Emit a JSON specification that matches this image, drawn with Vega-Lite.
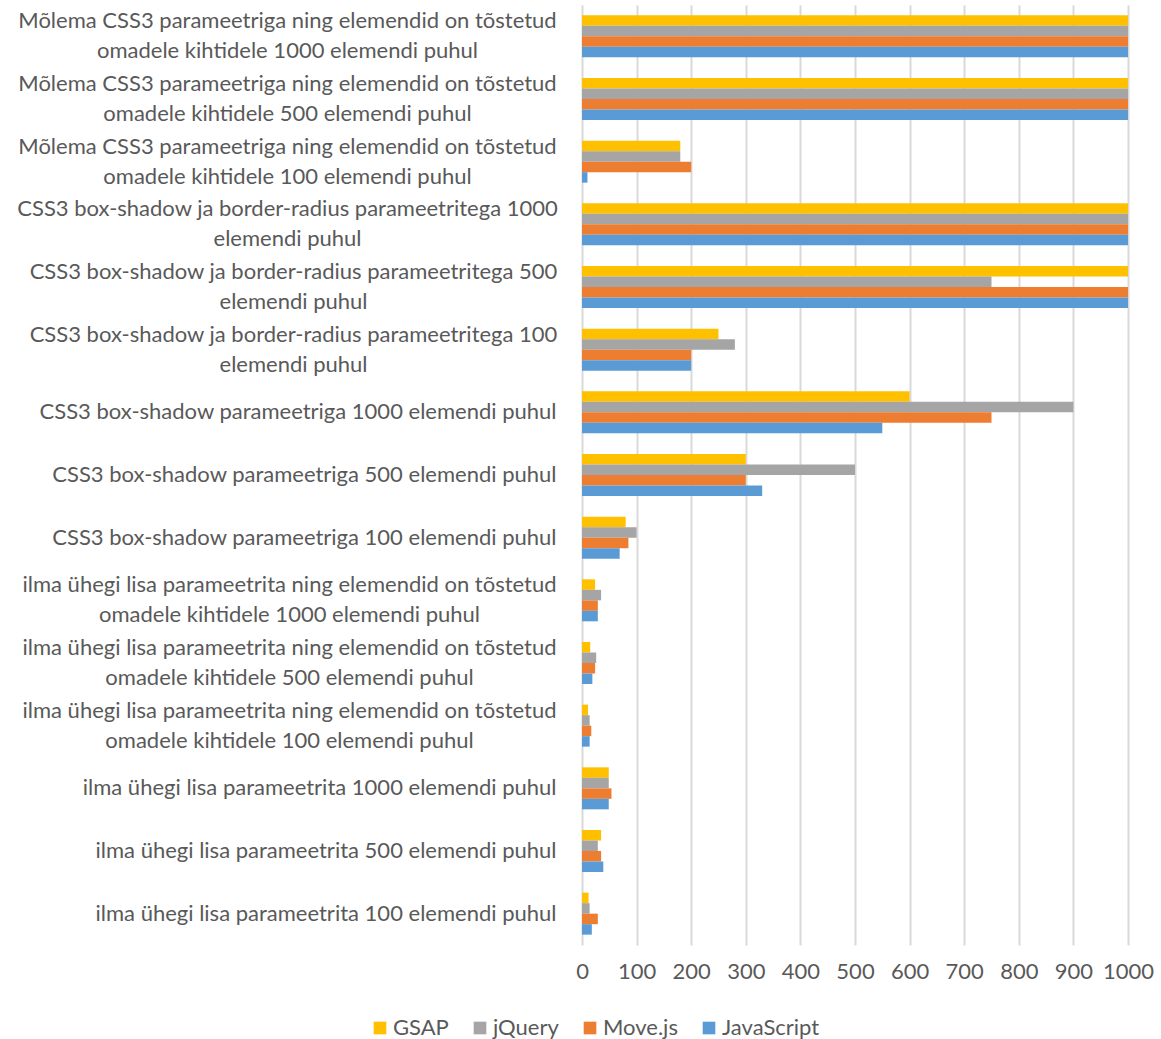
{
  "$schema": "https://vega.github.io/schema/vega-lite/v6.json",
  "width": 546,
  "height": 940,
  "padding": {"left": 16, "top": 5, "right": 30, "bottom": 5},
  "background": "white",
  "config": {
    "font": "Lato",
    "view": {"stroke": null},
    "axis": {"labelColor": "#595959", "labelFontSize": 22, "labelFont": "Lato"},
    "legend": {"labelColor": "#595959", "labelFontSize": 22, "labelFont": "Lato"}
  },
  "data": {
    "values": [
      {"test": "Mõlema CSS3 parameetriga ning elemendid on tõstetud|omadele kihtidele 1000 elemendi puhul", "series": "GSAP", "ms": 1000},
      {"test": "Mõlema CSS3 parameetriga ning elemendid on tõstetud|omadele kihtidele 1000 elemendi puhul", "series": "jQuery", "ms": 1000},
      {"test": "Mõlema CSS3 parameetriga ning elemendid on tõstetud|omadele kihtidele 1000 elemendi puhul", "series": "Move.js", "ms": 1000},
      {"test": "Mõlema CSS3 parameetriga ning elemendid on tõstetud|omadele kihtidele 1000 elemendi puhul", "series": "JavaScript", "ms": 1000},

      {"test": "Mõlema CSS3 parameetriga ning elemendid on tõstetud|omadele kihtidele 500 elemendi puhul", "series": "GSAP", "ms": 1000},
      {"test": "Mõlema CSS3 parameetriga ning elemendid on tõstetud|omadele kihtidele 500 elemendi puhul", "series": "jQuery", "ms": 1000},
      {"test": "Mõlema CSS3 parameetriga ning elemendid on tõstetud|omadele kihtidele 500 elemendi puhul", "series": "Move.js", "ms": 1000},
      {"test": "Mõlema CSS3 parameetriga ning elemendid on tõstetud|omadele kihtidele 500 elemendi puhul", "series": "JavaScript", "ms": 1000},

      {"test": "Mõlema CSS3 parameetriga ning elemendid on tõstetud|omadele kihtidele 100 elemendi puhul", "series": "GSAP", "ms": 180},
      {"test": "Mõlema CSS3 parameetriga ning elemendid on tõstetud|omadele kihtidele 100 elemendi puhul", "series": "jQuery", "ms": 180},
      {"test": "Mõlema CSS3 parameetriga ning elemendid on tõstetud|omadele kihtidele 100 elemendi puhul", "series": "Move.js", "ms": 200},
      {"test": "Mõlema CSS3 parameetriga ning elemendid on tõstetud|omadele kihtidele 100 elemendi puhul", "series": "JavaScript", "ms": 10},

      {"test": "CSS3 box-shadow ja border-radius parameetritega 1000|elemendi puhul", "series": "GSAP", "ms": 1000},
      {"test": "CSS3 box-shadow ja border-radius parameetritega 1000|elemendi puhul", "series": "jQuery", "ms": 1000},
      {"test": "CSS3 box-shadow ja border-radius parameetritega 1000|elemendi puhul", "series": "Move.js", "ms": 1000},
      {"test": "CSS3 box-shadow ja border-radius parameetritega 1000|elemendi puhul", "series": "JavaScript", "ms": 1000},

      {"test": "CSS3 box-shadow ja border-radius parameetritega 500|elemendi puhul", "series": "GSAP", "ms": 1000},
      {"test": "CSS3 box-shadow ja border-radius parameetritega 500|elemendi puhul", "series": "jQuery", "ms": 750},
      {"test": "CSS3 box-shadow ja border-radius parameetritega 500|elemendi puhul", "series": "Move.js", "ms": 1000},
      {"test": "CSS3 box-shadow ja border-radius parameetritega 500|elemendi puhul", "series": "JavaScript", "ms": 1000},

      {"test": "CSS3 box-shadow ja border-radius parameetritega 100|elemendi puhul", "series": "GSAP", "ms": 250},
      {"test": "CSS3 box-shadow ja border-radius parameetritega 100|elemendi puhul", "series": "jQuery", "ms": 280},
      {"test": "CSS3 box-shadow ja border-radius parameetritega 100|elemendi puhul", "series": "Move.js", "ms": 200},
      {"test": "CSS3 box-shadow ja border-radius parameetritega 100|elemendi puhul", "series": "JavaScript", "ms": 200},

      {"test": "CSS3 box-shadow parameetriga 1000 elemendi puhul", "series": "GSAP", "ms": 600},
      {"test": "CSS3 box-shadow parameetriga 1000 elemendi puhul", "series": "jQuery", "ms": 900},
      {"test": "CSS3 box-shadow parameetriga 1000 elemendi puhul", "series": "Move.js", "ms": 750},
      {"test": "CSS3 box-shadow parameetriga 1000 elemendi puhul", "series": "JavaScript", "ms": 550},

      {"test": "CSS3 box-shadow parameetriga 500 elemendi puhul", "series": "GSAP", "ms": 300},
      {"test": "CSS3 box-shadow parameetriga 500 elemendi puhul", "series": "jQuery", "ms": 500},
      {"test": "CSS3 box-shadow parameetriga 500 elemendi puhul", "series": "Move.js", "ms": 300},
      {"test": "CSS3 box-shadow parameetriga 500 elemendi puhul", "series": "JavaScript", "ms": 330},

      {"test": "CSS3 box-shadow parameetriga 100 elemendi puhul", "series": "GSAP", "ms": 80},
      {"test": "CSS3 box-shadow parameetriga 100 elemendi puhul", "series": "jQuery", "ms": 100},
      {"test": "CSS3 box-shadow parameetriga 100 elemendi puhul", "series": "Move.js", "ms": 85},
      {"test": "CSS3 box-shadow parameetriga 100 elemendi puhul", "series": "JavaScript", "ms": 69},

      {"test": "ilma ühegi lisa parameetrita ning elemendid on tõstetud|omadele kihtidele 1000 elemendi puhul", "series": "GSAP", "ms": 24},
      {"test": "ilma ühegi lisa parameetrita ning elemendid on tõstetud|omadele kihtidele 1000 elemendi puhul", "series": "jQuery", "ms": 35},
      {"test": "ilma ühegi lisa parameetrita ning elemendid on tõstetud|omadele kihtidele 1000 elemendi puhul", "series": "Move.js", "ms": 29},
      {"test": "ilma ühegi lisa parameetrita ning elemendid on tõstetud|omadele kihtidele 1000 elemendi puhul", "series": "JavaScript", "ms": 29},

      {"test": "ilma ühegi lisa parameetrita ning elemendid on tõstetud|omadele kihtidele 500 elemendi puhul", "series": "GSAP", "ms": 15},
      {"test": "ilma ühegi lisa parameetrita ning elemendid on tõstetud|omadele kihtidele 500 elemendi puhul", "series": "jQuery", "ms": 26},
      {"test": "ilma ühegi lisa parameetrita ning elemendid on tõstetud|omadele kihtidele 500 elemendi puhul", "series": "Move.js", "ms": 24},
      {"test": "ilma ühegi lisa parameetrita ning elemendid on tõstetud|omadele kihtidele 500 elemendi puhul", "series": "JavaScript", "ms": 19},

      {"test": "ilma ühegi lisa parameetrita ning elemendid on tõstetud|omadele kihtidele 100 elemendi puhul", "series": "GSAP", "ms": 11},
      {"test": "ilma ühegi lisa parameetrita ning elemendid on tõstetud|omadele kihtidele 100 elemendi puhul", "series": "jQuery", "ms": 14},
      {"test": "ilma ühegi lisa parameetrita ning elemendid on tõstetud|omadele kihtidele 100 elemendi puhul", "series": "Move.js", "ms": 17},
      {"test": "ilma ühegi lisa parameetrita ning elemendid on tõstetud|omadele kihtidele 100 elemendi puhul", "series": "JavaScript", "ms": 14},

      {"test": "ilma ühegi lisa parameetrita 1000 elemendi puhul", "series": "GSAP", "ms": 49},
      {"test": "ilma ühegi lisa parameetrita 1000 elemendi puhul", "series": "jQuery", "ms": 49},
      {"test": "ilma ühegi lisa parameetrita 1000 elemendi puhul", "series": "Move.js", "ms": 54},
      {"test": "ilma ühegi lisa parameetrita 1000 elemendi puhul", "series": "JavaScript", "ms": 49},

      {"test": "ilma ühegi lisa parameetrita 500 elemendi puhul", "series": "GSAP", "ms": 35},
      {"test": "ilma ühegi lisa parameetrita 500 elemendi puhul", "series": "jQuery", "ms": 29},
      {"test": "ilma ühegi lisa parameetrita 500 elemendi puhul", "series": "Move.js", "ms": 35},
      {"test": "ilma ühegi lisa parameetrita 500 elemendi puhul", "series": "JavaScript", "ms": 39},

      {"test": "ilma ühegi lisa parameetrita 100 elemendi puhul", "series": "GSAP", "ms": 12},
      {"test": "ilma ühegi lisa parameetrita 100 elemendi puhul", "series": "jQuery", "ms": 14},
      {"test": "ilma ühegi lisa parameetrita 100 elemendi puhul", "series": "Move.js", "ms": 29},
      {"test": "ilma ühegi lisa parameetrita 100 elemendi puhul", "series": "JavaScript", "ms": 18}
    ]
  },
  "mark": {"type": "bar", "cornerRadius": 0},
  "encoding": {
    "y": {
      "field": "test",
      "type": "nominal",
      "sort": null,
      "title": null,
      "scale": {"paddingInner": 0.33, "paddingOuter": 0.165},
      "axis": {
        "labelExpr": "split(datum.value, '|')",
        "labelLimit": 700,
        "labelLineHeight": 30,
        "labelAlign": {
          "condition": {"test": "indexof(datum.value, '|') >= 0", "value": "center"},
          "value": "right"
        },
        "labelPadding": {
          "condition": [
            {"test": "indexof(datum.value, 'Mõlema') == 0", "value": 295},
            {"test": "indexof(datum.value, 'parameetritega 1000') >= 0", "value": 295},
            {"test": "indexof(datum.value, 'parameetritega') >= 0", "value": 289},
            {"test": "indexof(datum.value, '|') >= 0", "value": 293}
          ],
          "value": 26
        },
        "labelOffset": {
          "condition": {"test": "indexof(datum.value, '|') >= 0", "value": -15},
          "value": 0
        },
        "ticks": false,
        "domain": false
      }
    },
    "yOffset": {
      "field": "series",
      "type": "nominal",
      "sort": ["GSAP", "jQuery", "Move.js", "JavaScript"]
    },
    "x": {
      "field": "ms",
      "type": "quantitative",
      "title": null,
      "scale": {"domain": [0, 1000], "nice": false},
      "axis": {
        "values": [0, 100, 200, 300, 400, 500, 600, 700, 800, 900, 1000],
        "format": "d",
        "grid": true,
        "gridColor": "#d9d9d9",
        "gridWidth": 2,
        "domain": false,
        "ticks": false,
        "labelPadding": 16,
        "labelFlush": false
      }
    },
    "color": {
      "field": "series",
      "type": "nominal",
      "sort": ["GSAP", "jQuery", "Move.js", "JavaScript"],
      "scale": {
        "domain": ["GSAP", "jQuery", "Move.js", "JavaScript"],
        "range": ["#FFC000", "#A5A5A5", "#ED7D31", "#5B9BD5"]
      },
      "legend": {
        "title": null,
        "orient": "none",
        "legendX": -213,
        "legendY": 1012,
        "direction": "horizontal",
        "symbolType": "square",
        "symbolSize": 160,
        "symbolStrokeWidth": 0,
        "labelOffset": 2,
        "columnPadding": 20
      }
    }
  }
}
